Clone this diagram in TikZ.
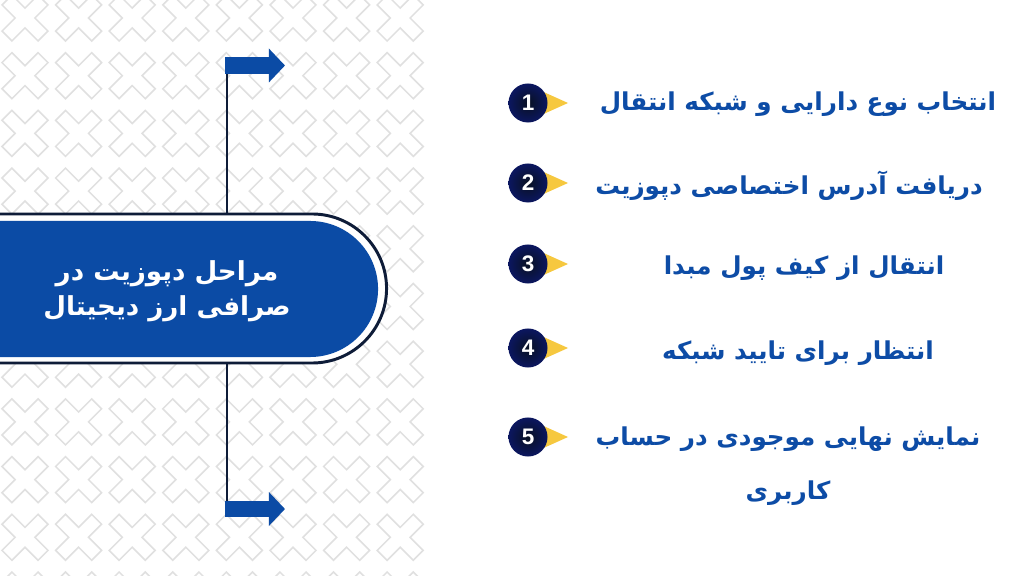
\documentclass[tikz,border=0pt]{standalone}
\usepackage{fontspec}
\usetikzlibrary{shapes.misc,arrows.meta}
\newfontfamily\arabicfont[Script=Arabic]{DejaVu Sans}
\newfontfamily\numfont{Liberation Sans}
\TeXXeTstate=1

\definecolor{bannerblue}{HTML}{0B4BA5}
\definecolor{stepblue}{HTML}{0D4CA6}
\definecolor{navy}{HTML}{0E1C38}
\definecolor{tipyellow}{HTML}{F6C83F}
\definecolor{patterngray}{HTML}{E0E0E0}

\tikzset{
  xmark/.style={draw=patterngray, line width=1.1pt},
  stemline/.style={navy, line width=1.8pt},
  flagarrow/.style={bannerblue, line width=12pt, -{Triangle[length=11.5pt, width=23.5pt]}},
  bannershape/.style={rounded rectangle, rounded rectangle west arc=none, inner sep=0pt, outer sep=0pt},
  stepnum/.style={circle, minimum size=0.975cm, inner sep=0pt, shading=radial,
    inner color=navy!60!black, outer color=navy!80!blue, text=white,
    font=\numfont\bfseries\fontsize{16}{18}\selectfont},
  steptext/.style={text=stepblue, align=center,
    font=\arabicfont\bfseries\fontsize{17.5}{38}\selectfont},
}

\begin{document}
\begin{tikzpicture}[x=0.025cm, y=-0.025cm]
			\useasboundingbox (0,0) rectangle (1024,576);
			\fill[white] (0,0) rectangle (1024,576);

			% Background pattern
			\begin{scope}
				\clip (0,0) rectangle (430,576);
				\foreach \col in {0,...,7}
				\foreach \row in {0,...,10}
				{
					\draw[xmark, shift={({25+53.6*\col},{18+57.7*\row})}, rotate=45]
						(7,25.5) -- (7,7) -- (25.5,7) -- (25.5,-7) -- (7,-7) -- (7,-25.5) --
						(-7,-25.5) -- (-7,-7) -- (-25.5,-7) -- (-25.5,7) -- (-7,7) -- (-7,25.5) -- cycle;
				}
			\end{scope}

			% Stem and arrows
			\coordinate (stemtop) at (227,57);
			\coordinate (stembot) at (227,517);
			\coordinate (flagtop) at (225,65.5);
			\coordinate (flagbot) at (225,509);
			\coordinate (tiptop) at (285,65.5);
			\coordinate (tipbot) at (285,509);
			\draw[stemline] (stemtop) -- (stembot);
			\draw[flagarrow] (flagtop) -- (tiptop);
			\draw[flagarrow] (flagbot) -- (tipbot);

			% Banner
			\node[bannershape, draw=navy, line width=2.1pt, fill=white,
				minimum width=9.8625cm, minimum height=3.725cm] (bannerframe) at (189.25,288.5) {};
			\node[bannershape, fill=bannerblue,
				minimum width=9.575cm, minimum height=3.4cm] (banner) at (186.5,289) {};
			\node[text=white, align=center, font=\arabicfont\bfseries\fontsize{18.6}{25}\selectfont]
				(title) at (167,291) {\beginR مراحل دپوزیت در\endR\\\beginR صرافی ارز دیجیتال\endR};

			% Step numbers
			\foreach \i/\y in {1/103,2/183,3/264,4/348,5/437}
			{
				\fill[tipyellow] (528,\y) ++(10,-13.5) -- ++(30,13.5) -- ++(-30,13.5) -- cycle;
				\node[stepnum] (num\i) at (528,\y) {\i};
			}

			% Step labels
			\node[steptext] (step1) at (798,104) {\beginR انتخاب نوع دارایی و شبکه انتقال\endR};
			\node[steptext] (step2) at (789,186) {\beginR دریافت آدرس اختصاصی دپوزیت\endR};
			\node[steptext] (step3) at (804,268) {\beginR انتقال از کیف پول مبدا\endR};
			\node[steptext] (step4) at (798,353) {\beginR انتظار برای تایید شبکه\endR};
			\node[steptext] (step5) at (788,466) {\beginR نمایش نهایی موجودی در حساب\endR\\\beginR کاربری\endR};
		\end{tikzpicture}
\end{document}
